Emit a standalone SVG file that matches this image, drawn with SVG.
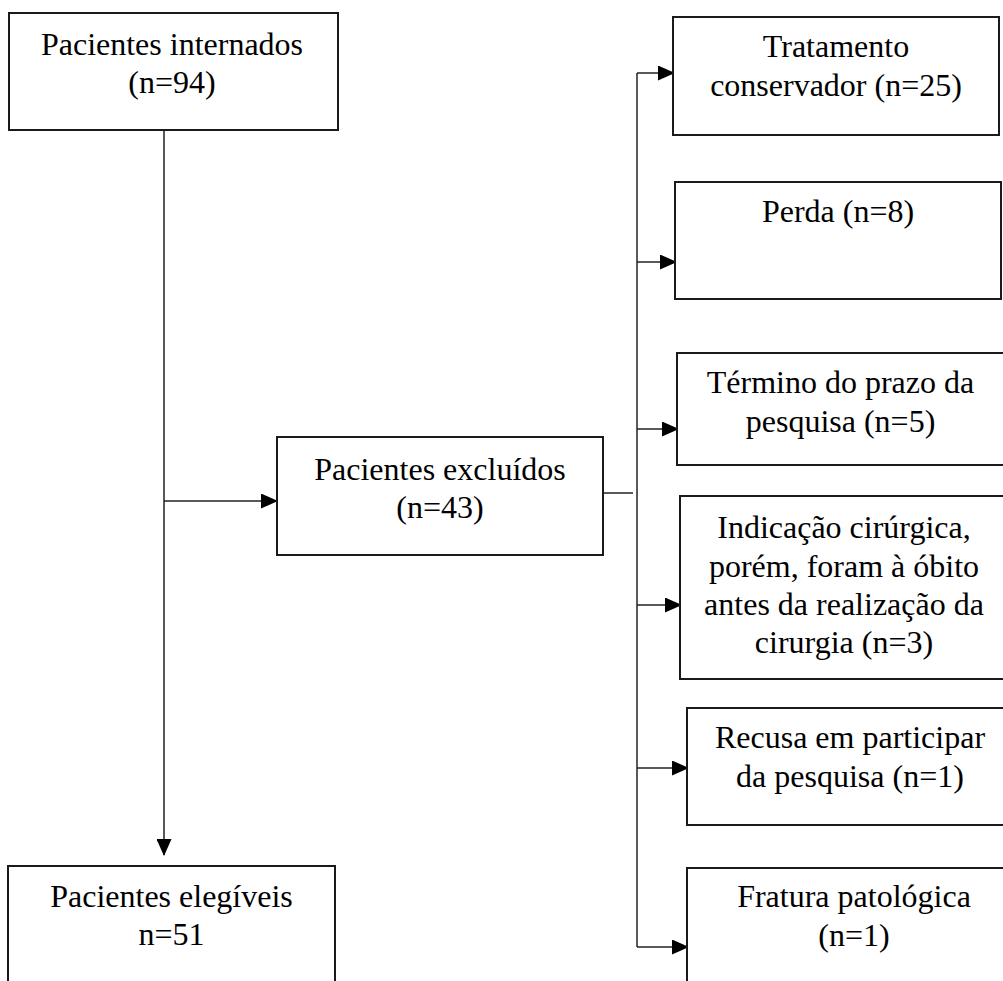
<svg xmlns="http://www.w3.org/2000/svg" width="1003" height="981" viewBox="0 0 1003 981">
<style>
  .box { fill: #fff; stroke: #1a1a1a; stroke-width: 2; }
  .t { font-family: "Liberation Serif", "Times New Roman", serif; font-size: 32px; fill: #000; text-anchor: middle; }
  .c { fill: none; stroke: #222; stroke-width: 1.5; }
</style>
<defs>
  <marker id="ah" viewBox="0 0 17 15" refX="16" refY="7.5" markerWidth="17" markerHeight="15" markerUnits="userSpaceOnUse" orient="auto">
    <path d="M0,0 L17,7.5 L0,15 Z" fill="#000"/>
  </marker>
</defs>
<rect width="1003" height="981" fill="#fff"/>

<g id="connectors">
  <line class="c" x1="164" y1="130" x2="164" y2="855" marker-end="url(#ah)"/>
  <line class="c" x1="164" y1="501" x2="277" y2="501" marker-end="url(#ah)"/>
  <line class="c" x1="603" y1="493" x2="633" y2="493"/>
  <line class="c" x1="637" y1="73" x2="637" y2="947"/>
  <line class="c" x1="637" y1="73" x2="674" y2="73" marker-end="url(#ah)"/>
  <line class="c" x1="637" y1="262" x2="676" y2="262" marker-end="url(#ah)"/>
  <line class="c" x1="637" y1="429" x2="678" y2="429" marker-end="url(#ah)"/>
  <line class="c" x1="637" y1="605" x2="681" y2="605" marker-end="url(#ah)"/>
  <line class="c" x1="637" y1="768" x2="688" y2="768" marker-end="url(#ah)"/>
  <line class="c" x1="637" y1="947" x2="688" y2="947" marker-end="url(#ah)"/>
</g>

<g id="internados">
  <rect class="box" x="9" y="13" width="329" height="117"/>
  <text class="t" x="172" y="55">Pacientes internados</text>
  <text class="t" x="172" y="93">(n=94)</text>
</g>

<g id="excluidos">
  <rect class="box" x="277" y="437" width="326" height="118"/>
  <text class="t" x="440" y="480">Pacientes excluídos</text>
  <text class="t" x="440" y="518">(n=43)</text>
</g>

<g id="elegiveis">
  <rect class="box" x="8" y="866" width="327" height="140"/>
  <text class="t" x="171.5" y="907">Pacientes elegíveis</text>
  <text class="t" x="171.5" y="945">n=51</text>
</g>

<g id="tratamento">
  <rect class="box" x="673" y="17" width="326" height="118"/>
  <text class="t" x="836" y="57">Tratamento</text>
  <text class="t" x="836" y="96">conservador (n=25)</text>
</g>

<g id="perda">
  <rect class="box" x="675" y="182" width="326" height="117"/>
  <text class="t" x="838" y="222">Perda (n=8)</text>
</g>

<g id="termino">
  <rect class="box" x="677" y="353" width="327" height="112"/>
  <text class="t" x="840.5" y="393">Término do prazo da</text>
  <text class="t" x="840.5" y="432">pesquisa (n=5)</text>
</g>

<g id="indicacao">
  <rect class="box" x="680" y="496" width="328" height="183"/>
  <text class="t" x="844" y="538">Indicação cirúrgica,</text>
  <text class="t" x="844" y="577">porém, foram à óbito</text>
  <text class="t" x="844" y="615">antes da realização da</text>
  <text class="t" x="844" y="653">cirurgia (n=3)</text>
</g>

<g id="recusa">
  <rect class="box" x="687" y="708" width="327" height="117"/>
  <text class="t" x="850" y="748">Recusa em participar</text>
  <text class="t" x="850" y="787">da pesquisa (n=1)</text>
</g>

<g id="fratura">
  <rect class="box" x="687" y="868" width="334" height="140"/>
  <text class="t" x="854" y="907">Fratura patológica</text>
  <text class="t" x="854" y="946">(n=1)</text>
</g>
</svg>
